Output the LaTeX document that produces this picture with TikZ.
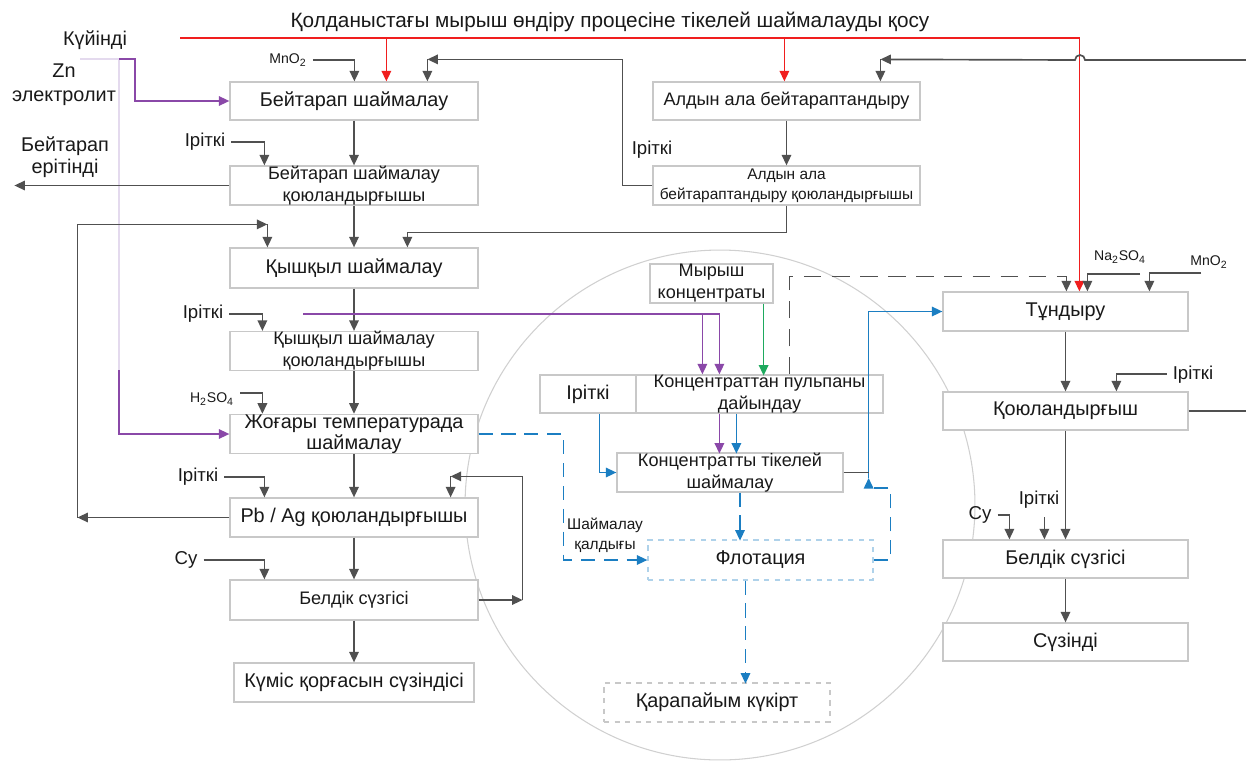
\documentclass[tikz,border=0pt]{standalone}
\usepackage{fontspec}
\setmainfont{Liberation Sans}
\usetikzlibrary{arrows.meta, calc, positioning}
\definecolor{linie}{HTML}{505050}
\definecolor{rahmen}{HTML}{C8C8C8}
\definecolor{rot}{HTML}{F01E1E}
\definecolor{lila}{HTML}{8A48A8}
\definecolor{blass}{HTML}{E4DAEE}
\definecolor{gruen}{HTML}{1EAA5E}
\definecolor{blau}{HTML}{1B7EC2}
\definecolor{kreis}{HTML}{D0D0D0}
\newcommand{\titel}{\fontsize{11.8}{13}\selectfont}
\newcommand{\gross}{\fontsize{11.3}{12.2}\selectfont}
\newcommand{\mittel}{\fontsize{10.3}{12.4}\selectfont}
\newcommand{\etikett}{\fontsize{10.6}{12}\selectfont}
\newcommand{\klein}{\fontsize{8.8}{11.2}\selectfont}
\newcommand{\formel}{\fontsize{8}{10}\selectfont}

\begin{document}
\begin{tikzpicture}[
    x=0.02cm, y=-0.02cm,
    every node/.style={font=\etikett, text=black!90},
    box/.style={draw=rahmen, fill=white, line width=0.7pt, inner sep=0pt, align=center, font=\gross},
    sz/.style 2 args={minimum width=#1*0.02cm, minimum height=#2*0.02cm},
    pfeil/.style={draw=linie, line width=0.95pt, -{Triangle[length=6pt,width=5.4pt]}},
    rotpfeil/.style={pfeil, draw=rot},
    lilapfeil/.style={pfeil, draw=lila},
    gruenpfeil/.style={pfeil, draw=gruen},
    blaupfeil/.style={pfeil, draw=blau},
    blaustrich/.style={pfeil, draw=blau, dash pattern=on 8pt off 5pt},
    graustrich/.style={pfeil, draw=linie, dash pattern=on 10pt off 6pt},
  ]
  \useasboundingbox (0,0) rectangle (1246,764);

  % Kreis um die Direktlaugung
  \draw[kreis, line width=0.6pt] (720,505) circle[radius=5.1cm];

  % Titel
  \node (titel) at (610,22) {\titel Қолданыстағы мырыш өндіру процесіне тікелей шаймалауды қосу};

  % linke Spalte
  \node[box, sz={248}{38}] (b1) at (354,101) {Бейтарап шаймалау};
  \node[box, sz={248}{39}, font=\mittel] (b2) at (354,185.5) {Бейтарап шаймалау\\қоюландырғышы};
  \node[box, sz={248}{40}] (b3) at (354,268) {Қышқыл шаймалау};
  \node[box, sz={248}{38}, font=\mittel] (b4) at (354,351) {Қышқыл шаймалау\\қоюландырғышы};
  \node[box, sz={248}{38}] (b5) at (354,434) {Жоғары температурада\\шаймалау};
  \node[box, sz={248}{39}] (b6) at (354,517.5) {Pb / Ag қоюландырғышы};
  \node[box, sz={248}{40}, font=\mittel] (b7) at (354,600) {Белдік сүзгісі};
  \node[box, sz={240}{39}] (b8) at (354,682.5) {Күміс қорғасын сүзіндісі};

  % Vorneutralisation
  \node[box, sz={267}{38}, font=\mittel] (a1) at (786.5,101) {Алдын ала бейтараптандыру};
  \node[box, sz={267}{39}, font=\klein] (a2) at (786.5,185.5) {Алдын ала\\бейтараптандыру қоюландырғышы};

  % Mitte (im Kreis)
  \node[box, sz={123}{39}, font=\mittel] (mk) at (711.5,283.5) {Мырыш\\концентраты};
  \node[box, sz={96}{38}] (pulpi) at (588,394) {Іріткі};
  \node[box, sz={247}{38}, font=\mittel] (pulpe) at (759.5,394) {Концентраттан пульпаны\\дайындау};
  \node[box, sz={226}{39}, font=\mittel] (konz) at (730,472.5) {Концентратты тікелей\\шаймалау};
  \node[box, sz={225}{40}, draw=blau!35, dashed] (flot) at (760.5,560) {Флотация};
  \node[box, sz={226}{39}, dashed] (sulf) at (717,702.5) {Қарапайым күкірт};

  % rechte Spalte
  \node[box, sz={245}{39}] (t1) at (1065.5,311.5) {Тұндыру};
  \node[box, sz={245}{38}] (t2) at (1065.5,411) {Қоюландырғыш};
  \node[box, sz={245}{38}] (t3) at (1065.5,559) {Белдік сүзгісі};
  \node[box, sz={245}{38}] (t4) at (1065.5,642) {Сүзінді};

  % Beschriftungen
  \node[font=\gross] (kuyindi) at (95,40) {Күйінді};
  \node[font=\gross, align=center] (zn) at (64,85) {Zn\\[1.2pt]электролит};
  \node[font=\gross, align=center] (eritindi) at (65,157) {Бейтарап\\[0.6pt]ерітінді};
  \node[font=\formel] (mno1) at (288,60) {MnO\textsubscript{2}};
  \node (ir1) at (205,142) {Іріткі};
  \node (ir2) at (652,150) {Іріткі};
  \node (ir3) at (203,314) {Іріткі};
  \node[font=\formel] (hso) at (212,399) {H\textsubscript{2}SO\textsubscript{4}};
  \node (ir4) at (198,477) {Іріткі};
  \node (su1) at (186,560) {Су};
  \node[font=\klein, align=center] (qaldyq) at (605,535) {Шаймалау\\қалдығы};
  \node[font=\formel] (na) at (1120,257) {Na\textsubscript{2}SO\textsubscript{4}};
  \node[font=\formel] (mno2) at (1209,262) {MnO\textsubscript{2}};
  \node (ir5) at (1193,375) {Іріткі};
  \node (su2) at (980,515) {Су};
  \node (ir6) at (1039,500) {Іріткі};

  % rote Linie oben
  \coordinate (rotanfang) at (180,38);
  \coordinate (e1) at ($(b1.north west)+(157,0)$);
  \coordinate (e2) at ($(t1.north west)+(137,0)$);
  \coordinate (e3) at ($(a1.north west)+(132,0)$);
  \draw[rotpfeil] (rotanfang) -| (e2);
  \draw[rotpfeil] (rotanfang -| e1) -- (e1);
  \draw[rotpfeil] (rotanfang -| e3) -- (e3);

  % Zn-Elektrolyt (lila)
  \coordinate (blassanfang) at (80,59);
  \coordinate (blassknick) at (119,59);
  \draw[blass, line width=0.9pt] (blassanfang) -- (blassknick) -- ++(0,311);
  \draw[lilapfeil] (blassknick) -- ++(16,0) |- (b1.west);
  \draw[lilapfeil] ($(blassknick)+(0,311)$) |- (b5.west);

  % Zufluesse linke Spalte
  \draw[pfeil] (mno1.east) -| ($(b1.north west)+(125,0)$);
  \coordinate (hakenA) at ($(b1.north west)+(198,-22)$);
  \draw[pfeil] (a2.west) -- ++(-30,0) |- (hakenA);
  \draw[pfeil] (hakenA) -- ($(b1.north west)+(198,0)$);
  \draw[pfeil] (ir1.east) -| ($(b2.north west)+(35,0)$);
  \draw[pfeil] (b2.west) -- ++(-215,0);
  \draw[pfeil] (a2.south) -- ++(0,27) -| ($(b3.north west)+(178,0)$);
  \draw[pfeil] (ir3.east) -| ($(b4.north west)+(33,0)$);
  \draw[pfeil] ($(hso.east)+(0,-6)$) -| ($(b5.north west)+(33,0)$);
  \draw[pfeil] (ir4.east) -| ($(b6.north west)+(35,0)$);
  \draw[pfeil] (su1.east) -| ($(b7.north west)+(35,0)$);
  \foreach \von/\nach in {b1/b2, b2/b3, b3/b4, b4/b5, b5/b6, b6/b7, b7/b8, a1/a2, t1/t2, t2/t3, t3/t4}
    \draw[pfeil] (\von) -- (\nach);

  % Rueckfuehrungen links
  \coordinate (schleife) at ($(b6.west)+(-152,0)$);
  \coordinate (schleifeoben) at ($(b3.north west)+(38,-23)$);
  \draw[pfeil] (b6.west) -- (schleife);
  \draw[pfeil] (schleife) |- (schleifeoben);
  \draw[pfeil] (schleifeoben) -- ($(b3.north west)+(38,0)$);
  \coordinate (rechtsschleife) at ($(b7.east)+(44,0)$);
  \coordinate (b6haken) at ($(b6.north east)+(-28,-21)$);
  \draw[pfeil] (b7.east) -- (rechtsschleife);
  \draw[pfeil] (rechtsschleife) |- (b6haken);
  \draw[pfeil] (b6haken) -- ++(0,21);

  % von rechts zur Vorneutralisation
  \coordinate (rechtsoben) at (1246,60);
  \coordinate (hakenB) at ($(a1.north west)+(228,-22)$);
  \draw[pfeil] (rechtsoben) -- ++(-161,0) arc[start angle=0, end angle=180, radius=0.1cm] -- (hakenB);
  \draw[pfeil] (hakenB) -- ($(a1.north west)+(228,0)$);

  % Pulpe und Direktlaugung
  \coordinate (lilaanfang) at (303,314);
  \coordinate (lilaab) at ($(pulpe.north west)+(67,-61)$);
  \draw[lilapfeil] (lilaanfang) -| ($(pulpe.north west)+(84,0)$);
  \draw[lilapfeil] (lilaab) -- ++(0,61);
  \draw[gruenpfeil] ($(mk.south east)+(-10,0)$) -- ++(0,72);
  \draw[blaupfeil] ($(pulpi.south west)+(60,0)$) |- (konz.west);
  \draw[lilapfeil] ($(pulpe.south west)+(84,0)$) -- ++(0,40);
  \draw[blaupfeil] ($(pulpe.south west)+(101,0)$) -- ++(0,40);

  % Rueckstand und Flotation (gestrichelt)
  \draw[blaustrich] (b5.east) -- ++(85,0) |- (flot.west);
  \draw[blaustrich] ($(konz.south)+(10,0)$) -- ++(0,48);
  \draw[blaustrich] ($(flot.south)+(-15,0)$) -- ++(0,103);
  \coordinate (blauauf) at ($(flot.east)+(-5,-82)$);
  \draw[blaustrich] (flot.east) -- ++(17,0) -- ++(0,-72) -| (blauauf);
  \draw[blaupfeil] (blauauf) |- (t1.west);
  \draw[linie, line width=0.95pt] (konz.east) -- (konz.east -| blauauf);
  \coordinate (grauknick) at ($(t1.north west)+(124,-15)$);
  \draw[graustrich] ($(pulpe.north west)+(154,0)$) |- (grauknick) -- ++(0,15);

  % Zufluesse rechte Spalte
  \draw[pfeil] ($(na)+(20,17)$) -| ($(t1.north west)+(145,0)$);
  \draw[pfeil] ($(mno2)+(-8,11)$) -| ($(t1.north west)+(207,0)$);
  \draw[pfeil] ($(ir5.west)+(0,-1)$) -| ($(t2.north west)+(174,0)$);
  \draw[linie, line width=0.95pt] (t2.east) -- ++(58,0);
  \draw[pfeil] (su2.east) -| ($(t3.north west)+(67,0)$);
  \draw[pfeil] ($(t3.north west)+(102,-22)$) -- ($(t3.north west)+(102,0)$);
\end{tikzpicture}
\end{document}
